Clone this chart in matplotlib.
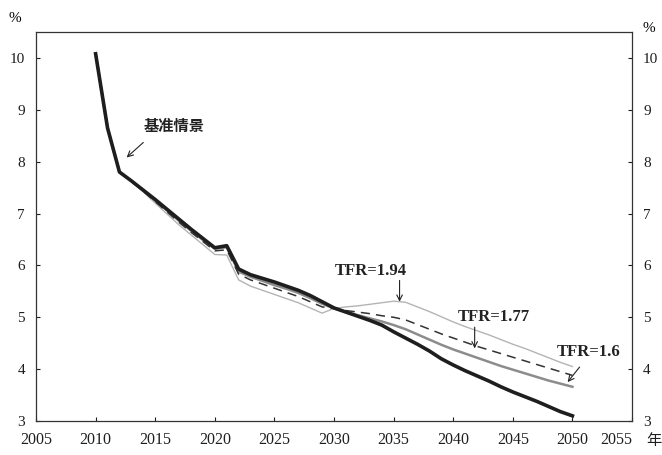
import matplotlib.pyplot as plt

plt.rcParams['font.family'] = ['Liberation Serif', 'Noto Sans CJK SC']

years = list(range(2010, 2051))

# baseline scenario
base = [10.08, 8.65, 7.80, 7.63, 7.45, 7.27, 7.08, 6.89, 6.70, 6.52,
        6.34, 6.38, 5.93, 5.82, 5.75, 5.68, 5.60, 5.52, 5.42, 5.30,
        5.18, 5.10, 5.02, 4.94, 4.85, 4.72, 4.60, 4.48, 4.35, 4.20,
        4.08, 3.97, 3.87, 3.77, 3.66, 3.56, 3.47, 3.38, 3.28, 3.18, 3.10]

# TFR = 1.94
tfr_194 = [10.08, 8.65, 7.80, 7.62, 7.42, 7.20, 6.99, 6.78, 6.59, 6.40,
           6.21, 6.20, 5.72, 5.60, 5.52, 5.44, 5.36, 5.28, 5.18, 5.08,
           5.17, 5.20, 5.22, 5.25, 5.28, 5.31, 5.29, 5.20, 5.11, 5.01,
           4.91, 4.82, 4.74, 4.66, 4.57, 4.48, 4.40, 4.31, 4.22, 4.13, 4.05]

# TFR = 1.77
tfr_177 = [10.08, 8.65, 7.80, 7.62, 7.43, 7.23, 7.03, 6.83, 6.64, 6.46,
           6.28, 6.30, 5.83, 5.72, 5.64, 5.56, 5.48, 5.40, 5.30, 5.20,
           5.17, 5.13, 5.10, 5.07, 5.03, 5.00, 4.95, 4.86, 4.77, 4.68,
           4.60, 4.52, 4.44, 4.37, 4.30, 4.23, 4.16, 4.09, 4.02, 3.95, 3.88]

# TFR = 1.6
tfr_160 = [10.08, 8.65, 7.80, 7.63, 7.44, 7.25, 7.06, 6.86, 6.67, 6.49,
           6.32, 6.35, 5.88, 5.78, 5.70, 5.62, 5.55, 5.47, 5.37, 5.26,
           5.17, 5.10, 5.04, 4.98, 4.92, 4.85, 4.77, 4.67, 4.57, 4.47,
           4.38, 4.30, 4.22, 4.14, 4.06, 3.99, 3.92, 3.85, 3.78, 3.72, 3.66]

x_ticks = list(range(2005, 2056, 5))
y_ticks = [3, 4, 5, 6, 7, 8, 9, 10]

fig = plt.figure(figsize=(6.62, 4.55), dpi=100)
ax = fig.add_axes([0.0544, 0.0747, 0.9003, 0.855])

ax.plot(years, tfr_194, color='#b4b4b4', lw=1.0, zorder=2)
ax.plot(years, tfr_160, color='#8c8c8c', lw=1.8, zorder=2)
ax.plot(years, tfr_177, color='#333333', lw=1.1, dashes=(6, 4), zorder=3)
ax.plot(years, base, color='#1e1e1e', lw=2.6, zorder=4)

ax.set_xlim(2005, 2055)
ax.set_ylim(3, 10.5)
ax.set_xticks(x_ticks)
ax.set_yticks(y_ticks)
ax.tick_params(direction='in', length=3, width=0.8, labelsize=11,
               right=True, labelright=True, top=False, pad=8, colors='#1e1e1e')
ax.tick_params(axis='x', labelsize=11.5)
# last year label sits a bit left to leave room for the unit
ax.get_xticklabels()[-1].set_ha('right')
for s in ax.spines.values():
    s.set_linewidth(0.9)
    s.set_color('#333333')

fig.text(15 / 662, 1 - 19 / 455, '%', ha='center', va='center', fontsize=11)
fig.text(649 / 662, 1 - 29 / 455, '%', ha='center', va='center', fontsize=11)
fig.text(654 / 662, 1 - 441 / 455, '年', ha='center', va='center', fontsize=11,
         family='Noto Sans CJK SC', color='#1e1e1e')

arrow = dict(arrowstyle='->', lw=0.8, color='#222222', shrinkA=0, shrinkB=0)
ax.text(2016.6, 8.69, '基准情景', ha='center', va='center', fontsize=11,
        fontweight='bold', family='Noto Sans CJK SC', color='#222222')
ax.annotate('', xy=(2012.6, 8.08), xytext=(2014.0, 8.37), arrowprops=arrow)

ax.text(2033.1, 5.9, 'TFR=1.94', ha='center', va='center', fontsize=12,
        fontweight='bold', color='#222222')
ax.annotate('', xy=(2035.5, 5.30), xytext=(2035.5, 5.71), arrowprops=arrow)

ax.text(2043.4, 5.0, 'TFR=1.77', ha='center', va='center', fontsize=12,
        fontweight='bold', color='#222222')
ax.annotate('', xy=(2041.8, 4.40), xytext=(2041.8, 4.81), arrowprops=arrow)

ax.text(2051.4, 4.33, 'TFR=1.6', ha='center', va='center', fontsize=12,
        fontweight='bold', color='#222222')
ax.annotate('', xy=(2049.6, 3.75), xytext=(2050.6, 4.04), arrowprops=arrow)

fig.savefig('out.png', dpi=100)
